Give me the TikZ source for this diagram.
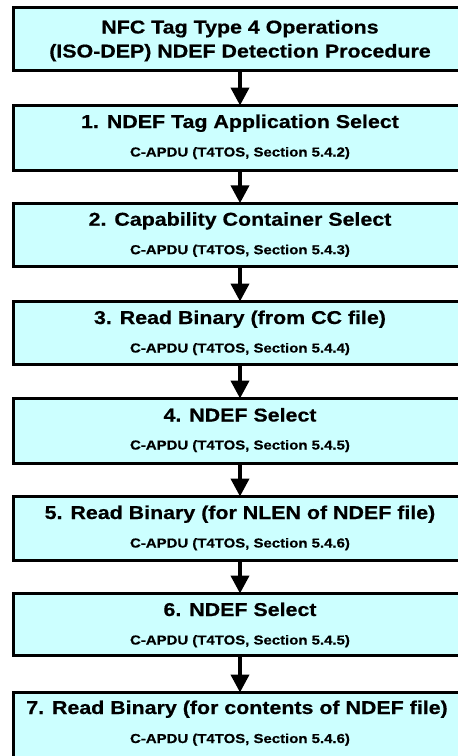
\documentclass[tikz,border=0pt]{standalone}
\usepackage{fontspec}
\newfontfamily\boxfont{Liberation Sans Bold}[FakeStretch=1.15,FakeBold=0.6]
\usetikzlibrary{arrows.meta}
\definecolor{boxfill}{HTML}{CCFFFF}
\begin{document}
\begin{tikzpicture}[x=1pt,y=-1pt,
  stepbox/.style={draw=black, line width=3pt, fill=boxfill, minimum width=453pt, inner sep=0pt, outer sep=0pt},
  maintext/.style={anchor=base, font=\boxfont\fontsize{18.6}{22}\selectfont, inner sep=0pt},
  subtext/.style={anchor=base, font=\boxfont\fontsize{13}{15}\selectfont, inner sep=0pt},
  flow/.style={-{Triangle[width=18pt,length=18pt]}, line width=4pt}]
\useasboundingbox (0,0) rectangle (458,756);
% boxes
\node[stepbox, minimum height=63pt] (t)  at (240,39) {};
\node[stepbox, minimum height=65pt] (b1) at (240,138) {};
\node[stepbox, minimum height=63.3pt] (b2) at (240,234.9) {};
\node[stepbox, minimum height=63pt] (b3) at (240,333) {};
\node[stepbox, minimum height=65pt] (b4) at (240,431) {};
\node[stepbox, minimum height=64pt] (b5) at (240,528.5) {};
\node[stepbox, minimum height=62pt] (b6) at (240,624.5) {};
\node[stepbox, minimum height=66pt] (b7) at (240,725.5) {};
% texts
\node[maintext] (t1) at (240,33.5) {NFC Tag Type 4 Operations};
\node[maintext] (t2) at (240,57.5) {(ISO-DEP) NDEF Detection Procedure};
\node[maintext] (m1) at (240,128) {1. NDEF Tag Application Select};
\node[subtext]  (s1) at (240,156.5) {C-APDU (T4TOS, Section 5.4.2)};
\node[maintext] (m2) at (240,225.7) {2. Capability Container Select};
\node[subtext]  (s2) at (240,254.2) {C-APDU (T4TOS, Section 5.4.3)};
\node[maintext] (m3) at (240,324) {3. Read Binary (from CC file)};
\node[subtext]  (s3) at (240,352.5) {C-APDU (T4TOS, Section 5.4.4)};
\node[maintext] (m4) at (240,421.5) {4. NDEF Select};
\node[subtext]  (s4) at (240,449.5) {C-APDU (T4TOS, Section 5.4.5)};
\node[maintext] (m5) at (240,519) {5. Read Binary (for NLEN of NDEF file)};
\node[subtext]  (s5) at (240,547.5) {C-APDU (T4TOS, Section 5.4.6)};
\node[maintext] (m6) at (240,616) {6. NDEF Select};
\node[subtext]  (s6) at (240,644.5) {C-APDU (T4TOS, Section 5.4.5)};
\node[maintext] (m7) at (237,714) {7. Read Binary (for contents of NDEF file)};
\node[subtext]  (s7) at (240,743) {C-APDU (T4TOS, Section 5.4.6)};
% connectors
\draw[flow] (t.south) -- (b1.north);
\draw[flow] (b1.south) -- (b2.north);
\draw[flow] (b2.south) -- (b3.north);
\draw[flow] (b3.south) -- (b4.north);
\draw[flow] (b4.south) -- (b5.north);
\draw[flow] (b5.south) -- (b6.north);
\draw[flow] (b6.south) -- (b7.north);
\end{tikzpicture}
\end{document}
